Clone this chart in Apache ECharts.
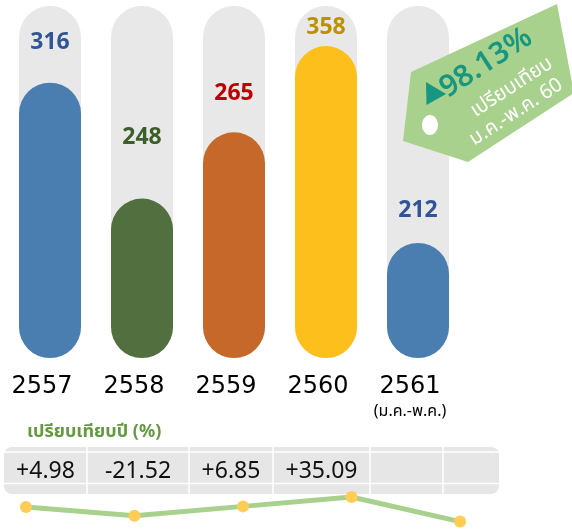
<!DOCTYPE html>
<html>
<head>
<meta charset="utf-8">
<script src="https://cdn.jsdelivr.net/npm/echarts@6/dist/echarts.min.js"></script>
<style>
  html, body { margin: 0; padding: 0; background: #fff; }
  #chart { width: 572px; height: 531px; }
</style>
</head>
<body>
<div id="chart"></div>
<script>
// ข้อมูล
var years = ['2557', '2558', '2559', '2560', '2561'];
var salesValues = [316, 248, 265, 358, 212];
// fill level of each pill as it is drawn in the infographic
var barHeights = [316, 183, 259, 358, 132];
var yoyTable = [4.98, -21.52, 6.85, 35.09];
var yoyPoints = [4.98, -21.52, 6.85, 35.09, -39];
var tagPercent = 98.13;

var barColors = ['#4a7eb1', '#526f3f', '#c5682a', '#fdbf1c', '#4a7eb1'];
var labelColors = ['#2f5597', '#3b5e2b', '#c00000', '#bf9000', '#2f5597'];
var labelGaps = [29, 50, 27, 7, 21];

var FONT = "'Noto Sans', 'Noto Sans Thai', sans-serif";

var chart = echarts.init(document.getElementById('chart'));

// ตาราง (graphic)
var colEdges = [4, 87, 189, 273, 370, 443, 499];
var tableTop = 447, tableBottom = 494;
var tableEls = [{
  type: 'rect',
  z: 1,
  shape: { x: 4, y: tableTop, width: 495, height: tableBottom - tableTop, r: 8 },
  style: { fill: '#e6e6e6' }
}];
[452, 483.5].forEach(function (y) {
  tableEls.push({
    type: 'line', z: 2,
    shape: { x1: 4, y1: y, x2: 499, y2: y },
    style: { stroke: '#fff', lineWidth: 1.5 }
  });
});
colEdges.slice(1, -1).forEach(function (x) {
  tableEls.push({
    type: 'line', z: 2,
    shape: { x1: x, y1: tableTop, x2: x, y2: tableBottom },
    style: { stroke: '#fff', lineWidth: 1.5 }
  });
});
yoyTable.forEach(function (v, i) {
  tableEls.push({
    type: 'text', z: 3,
    x: (colEdges[i] + colEdges[i + 1]) / 2,
    y: 471.5,
    style: {
      text: (v > 0 ? '+' : '') + v.toFixed(2),
      font: '23px ' + FONT,
      fill: '#111',
      align: 'center',
      verticalAlign: 'middle'
    }
  });
});

// ป้าย 98.13%
var tagRot = 0.576;
var tagEls = [
  {
    type: 'polygon', z: 100,
    shape: { points: [[403, 141], [411, 72], [557, 4], [574, 93], [468, 162]] },
    style: { fill: '#a9d18e' }
  },
  {
    type: 'ellipse', z: 101,
    shape: { cx: 430, cy: 125, rx: 8, ry: 10 },
    style: { fill: '#fff' }
  },
  {
    type: 'polygon', z: 101,
    shape: { points: [[426, 82], [426.5, 105], [446, 94]] },
    style: { fill: '#17977f' }
  },
  {
    type: 'text', z: 101, x: 486, y: 63, rotation: tagRot,
    style: { text: tagPercent.toFixed(2) + '%', font: '600 30px ' + FONT, fill: '#17977f', align: 'center', verticalAlign: 'middle' }
  },
  {
    type: 'text', z: 101, x: 511.5, y: 87, rotation: tagRot,
    style: { text: 'เปรียบเทียบ', font: '20px ' + FONT, fill: '#fff', align: 'center', verticalAlign: 'middle' }
  },
  {
    type: 'text', z: 101, x: 516, y: 112, rotation: tagRot,
    style: { text: 'ม.ค.-พ.ค. 60', font: '20px ' + FONT, fill: '#fff', align: 'center', verticalAlign: 'middle' }
  }
];

var option = {
  animation: false,
  grid: [
    { left: 4, right: 108, top: 6, bottom: 173 },
    { left: 26, right: 112, top: 495.4, bottom: 9.1 }
  ],
  xAxis: [
    {
      type: 'category',
      gridIndex: 0,
      data: years,
      axisLine: { show: false },
      axisTick: { show: false },
      axisLabel: {
        interval: 0,
        hideOverlap: false,
        margin: 16,
        padding: [0, 16, 0, 0],
        formatter: function (v) {
          return v === '2561' ? '{y|' + v + '}\n{s|(ม.ค.-พ.ค.)}' : '{y|' + v + '}';
        },
        rich: {
          y: { fontFamily: 'DejaVu Sans', fontSize: 24, color: '#000', lineHeight: 26 },
          s: { fontFamily: FONT, fontSize: 16, color: '#000', lineHeight: 22 }
        }
      }
    },
    {
      type: 'category',
      gridIndex: 1,
      data: years,
      boundaryGap: false,
      show: false
    }
  ],
  yAxis: [
    { type: 'value', gridIndex: 0, min: 0, max: 404, show: false },
    { type: 'value', gridIndex: 1, min: -40, max: 40, show: false }
  ],
  series: [
    {
      type: 'bar',
      xAxisIndex: 0,
      yAxisIndex: 0,
      barWidth: 62,
      showBackground: true,
      backgroundStyle: { color: '#e8e8e8', borderRadius: 31 },
      itemStyle: { borderRadius: 31 },
      label: {
        show: true,
        position: 'top',
        fontFamily: FONT,
        fontWeight: 'bold',
        fontSize: 23,
        formatter: function (p) { return salesValues[p.dataIndex]; }
      },
      data: barHeights.map(function (h, i) {
        return {
          value: h,
          itemStyle: { color: barColors[i] },
          label: { color: labelColors[i], distance: labelGaps[i] }
        };
      })
    },
    {
      type: 'line',
      xAxisIndex: 1,
      yAxisIndex: 1,
      data: yoyPoints,
      symbol: 'circle',
      symbolSize: 12,
      z: 50,
      lineStyle: { color: '#a9d18e', width: 5 },
      itemStyle: { color: '#ffcc55' }
    }
  ],
  graphic: [
    {
      type: 'text',
      left: 27,
      top: 423,
      z: 5,
      style: { text: 'เปรียบเทียบปี (%)', font: 'bold 18px ' + FONT, fill: '#639a3f' }
    },
    { type: 'group', children: tableEls },
    { type: 'group', children: tagEls }
  ]
};

chart.setOption(option);
</script>
</body>
</html>
